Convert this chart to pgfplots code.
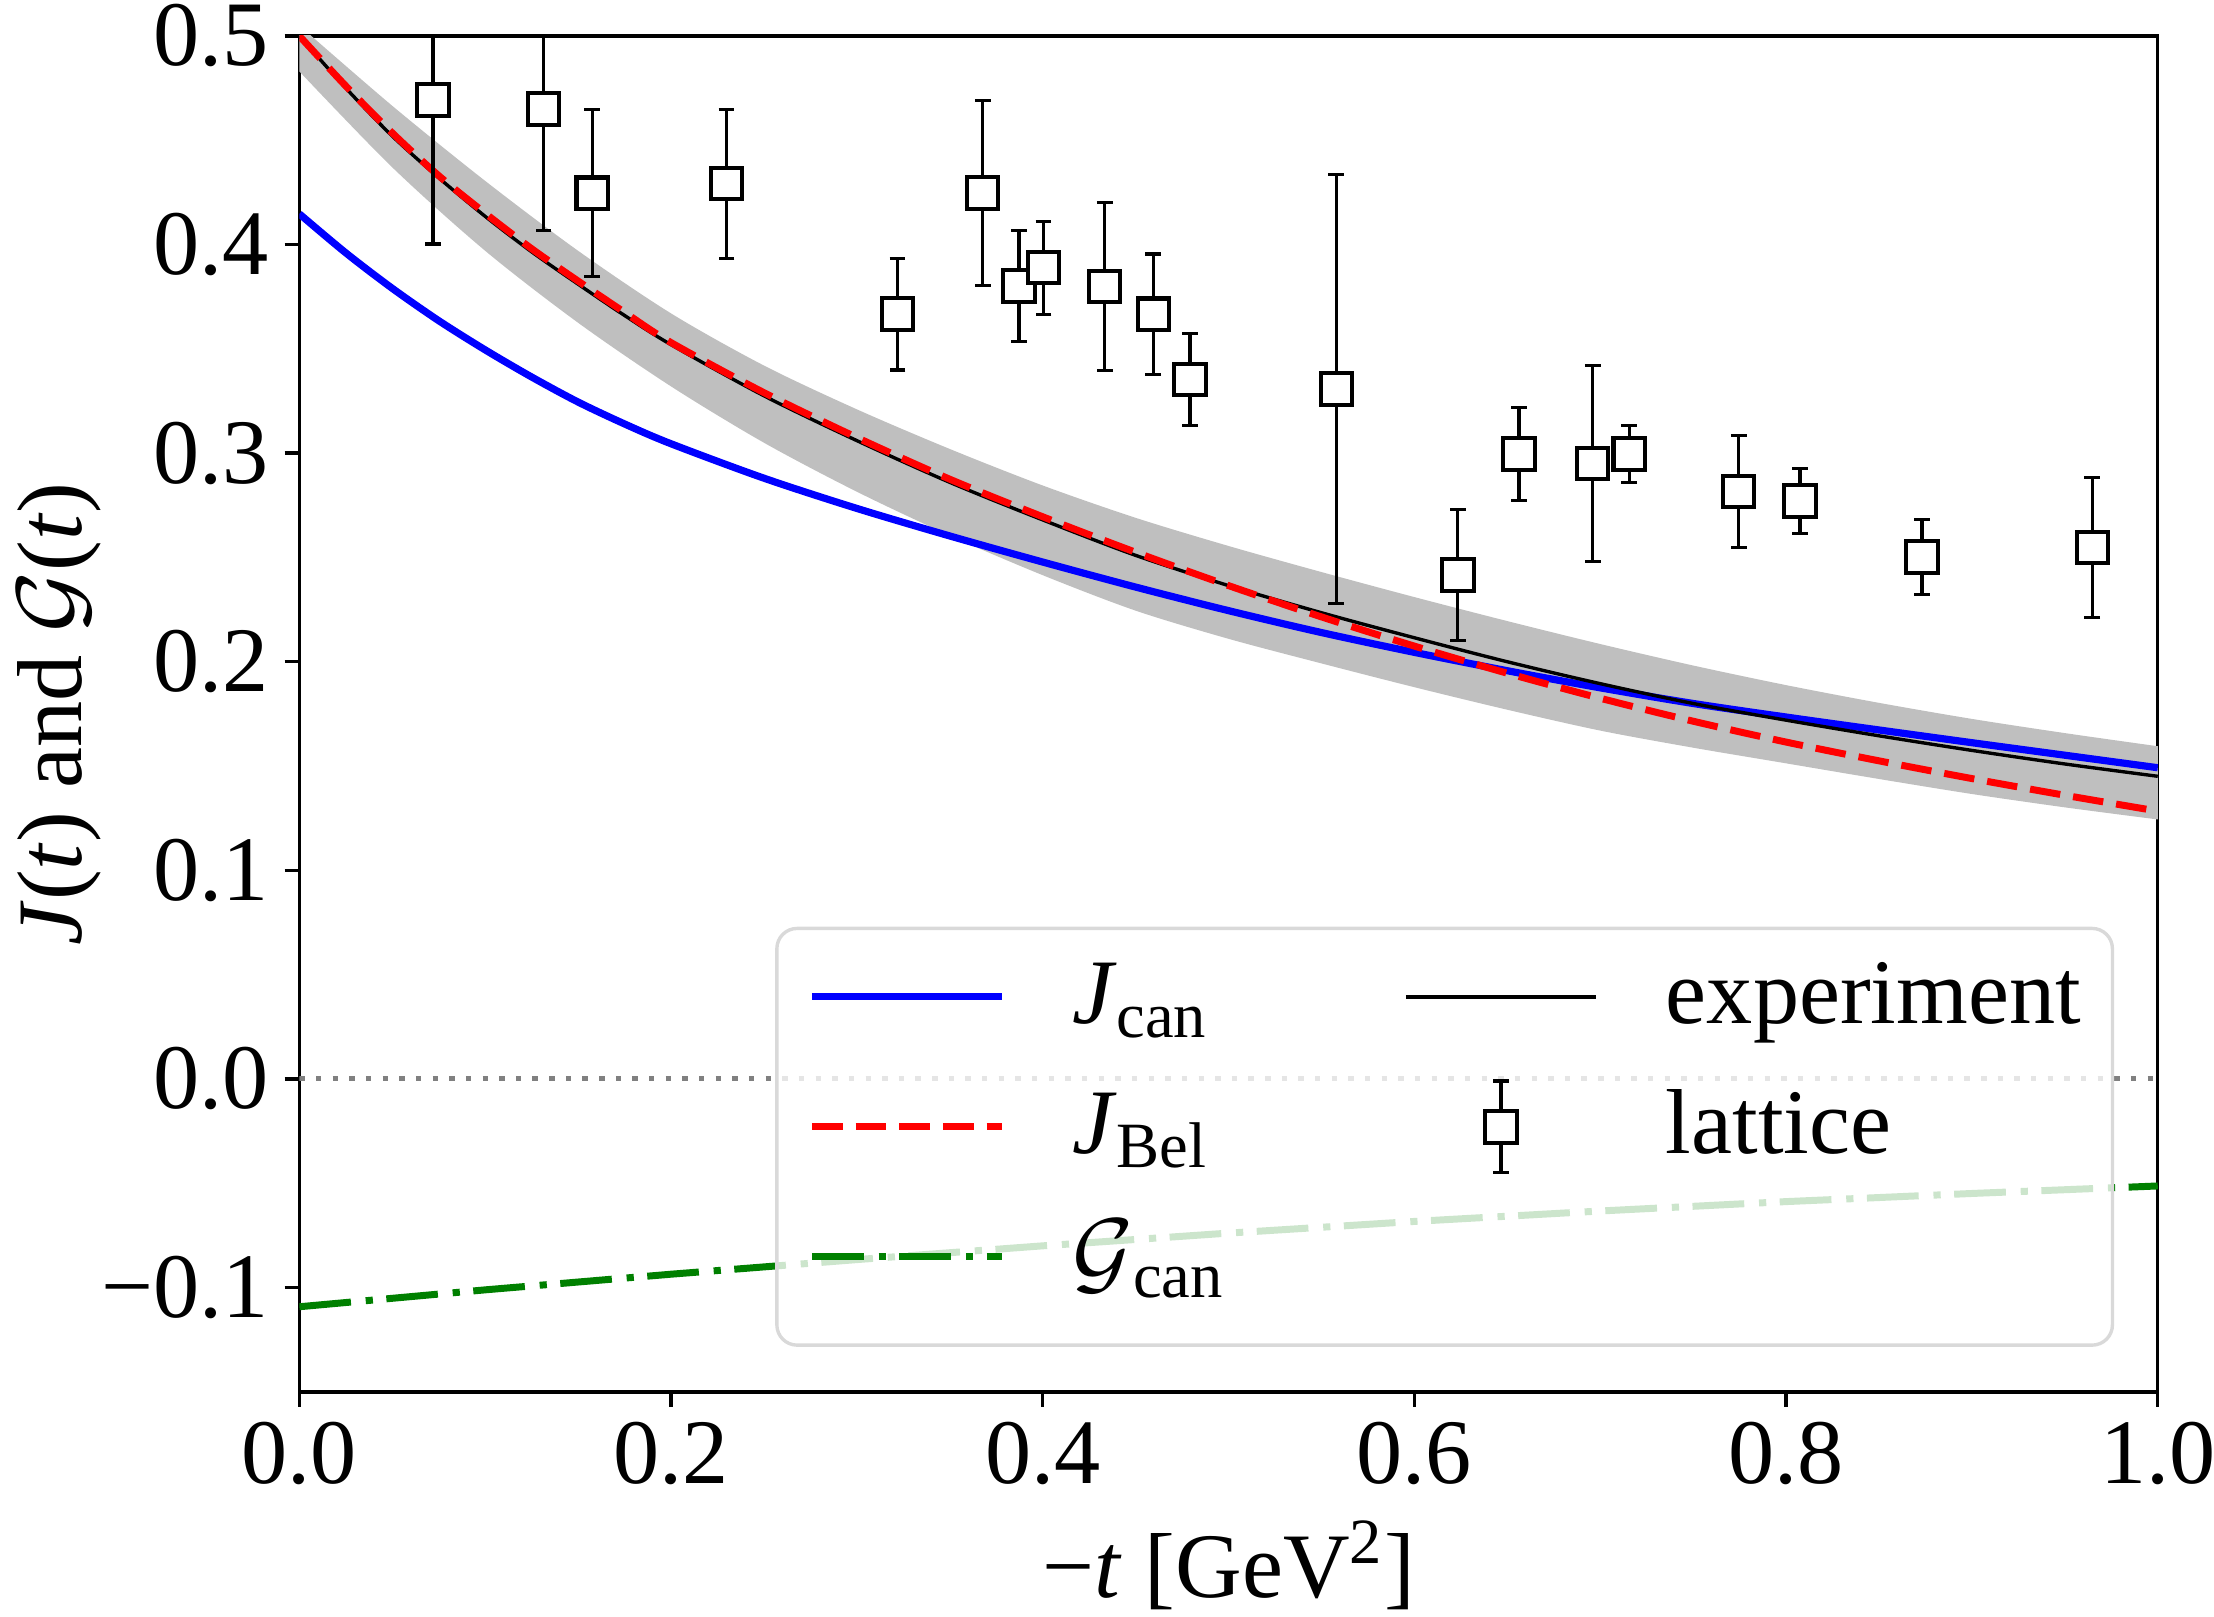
\documentclass[border=0pt]{standalone}
\usepackage{fontspec}
\setmainfont{Liberation Serif}
\usepackage{pgfplots}
\usepackage{pgfplotstable}
\pgfplotsset{compat=1.18}
\usepgfplotslibrary{fillbetween}

\definecolor{bandgray}{RGB}{191,191,191}
\definecolor{mplgreen}{RGB}{0,128,0}

% legend handles
\pgfplotsset{
  linelegend/.style={legend image code/.code={%
    \draw[##1] (0pt,0pt) -- (42.3pt,0pt);
    \path[draw=none, fill=none] (0pt,0pt) -- (57.8pt,0pt);}},
  lastlinelegend/.style={legend image code/.code={%
    \draw[##1] (0pt,0pt) -- (42.3pt,0pt);
    \path[draw=none, fill=none] (0pt,-10.4pt) -- (57.8pt,0pt);}},
  errlegend/.style={legend image code/.code={%
    \draw[black, line width=0.7pt, overlay, sharp corners, solid]
      (21.15pt,-10.2pt) -- (21.15pt,10.2pt)
      (19.4pt,-10.2pt) -- (22.9pt,-10.2pt) (19.4pt,10.2pt) -- (22.9pt,10.2pt);
    \draw[black, line width=0.9pt, fill=white, fill opacity=1, sharp corners, solid]
      (17.65pt,-3.5pt) rectangle (24.65pt,3.5pt);
    \path[draw=none, fill=none] (0pt,0pt) -- (57.8pt,0pt);}},
}

% uncertainty band of the experimental extraction
\pgfplotstableread{
t     up      lo
0.000 0.5050  0.4830
0.050 0.4665  0.4370
0.100 0.4305  0.3970
0.150 0.3970  0.3625
0.200 0.3670  0.3320
0.250 0.3420  0.3050
0.300 0.3210  0.2815
0.350 0.3020  0.2605
0.400 0.2845  0.2415
0.450 0.2690  0.2245
0.500 0.2555  0.2110
0.550 0.2430  0.1992
0.600 0.2310  0.1878
0.650 0.2195  0.1770
0.700 0.2085  0.1670
0.750 0.1982  0.1588
0.800 0.1888  0.1513
0.850 0.1803  0.1438
0.900 0.1726  0.1366
0.950 0.1658  0.1302
1.000 0.1595  0.1244
}\bandtab

% J_can
\pgfplotstableread{
t     v
0.000 0.4147
0.025 0.3960
0.050 0.3790
0.075 0.3635
0.100 0.3495
0.125 0.3365
0.150 0.3245
0.175 0.3140
0.200 0.3045
0.250 0.2880
0.300 0.2735
0.350 0.2603
0.400 0.2478
0.450 0.2358
0.500 0.2245
0.550 0.2140
0.600 0.2045
0.650 0.1957
0.700 0.1875
0.750 0.1800
0.800 0.1735
0.850 0.1673
0.900 0.1612
0.950 0.1552
1.000 0.1492
}\jcan

% J_Bel
\pgfplotstableread{
t     v
0.000 0.5000
0.025 0.4760
0.050 0.4535
0.075 0.4330
0.100 0.4150
0.125 0.3980
0.150 0.3825
0.175 0.3675
0.200 0.3530
0.250 0.3290
0.300 0.3075
0.350 0.2875
0.400 0.2695
0.450 0.2525
0.500 0.2365
0.550 0.2215
0.600 0.2075
0.650 0.1945
0.700 0.1825
0.750 0.1715
0.800 0.1615
0.850 0.1525
0.900 0.1440
0.950 0.1360
1.000 0.1284
}\jbel

% experiment
\pgfplotstableread{
t     v
0.000 0.5000
0.025 0.4750
0.050 0.4520
0.075 0.4320
0.100 0.4135
0.125 0.3965
0.150 0.3810
0.175 0.3660
0.200 0.3520
0.250 0.3275
0.300 0.3060
0.350 0.2860
0.400 0.2680
0.450 0.2510
0.500 0.2365
0.550 0.2235
0.600 0.2115
0.650 0.2000
0.700 0.1895
0.750 0.1800
0.800 0.1720
0.850 0.1645
0.900 0.1575
0.950 0.1510
1.000 0.1451
}\jexp

% G_can
\pgfplotstableread{
t   v
0.0 -0.1092
0.1 -0.1011
0.2 -0.0936
0.3 -0.0866
0.4 -0.0800
0.5 -0.0739
0.6 -0.0683
0.7 -0.0633
0.8 -0.0588
0.9 -0.0549
1.0 -0.0513
}\gcan

% lattice points with symmetric errors
\pgfplotstableread{
t      v      e
0.0719 0.4693 0.0690
0.1313 0.4649 0.0582
0.1576 0.4246 0.0401
0.2298 0.4292 0.0357
0.3218 0.3667 0.0268
0.3677 0.4247 0.0445
0.3872 0.3801 0.0267
0.4004 0.3889 0.0223
0.4333 0.3800 0.0403
0.4595 0.3666 0.0289
0.4792 0.3353 0.0222
0.5580 0.3307 0.1027
0.6234 0.2415 0.0313
0.6563 0.2996 0.0223
0.6959 0.2951 0.0470
0.7156 0.2996 0.0136
0.7745 0.2817 0.0269
0.8075 0.2771 0.0156
0.8731 0.2503 0.0179
0.9648 0.2548 0.0335
}\lattice

\newcommand{\colone}[1]{\makebox[73.8pt][l]{#1}}

\begin{document}
\begin{tikzpicture}
\begin{axis}[
  scale only axis,
  width=412.96pt, height=301.3pt,
  xmin=0, xmax=1, ymin=-0.15, ymax=0.5,
  font=\fontsize{20.5}{24.6}\selectfont,
  tick pos=left, tick align=outside,
  major tick length=3.3pt,
  every tick/.style={black, line width=0.75pt},
  axis line style={line width=0.75pt},
  xtick={0,0.2,0.4,0.6,0.8,1},
  xticklabels={0.0,0.2,0.4,0.6,0.8,1.0},
  ytick={-0.1,0,0.1,0.2,0.3,0.4,0.5},
  yticklabels={−0.1,0.0,0.1,0.2,0.3,0.4,0.5},
  xlabel={−\textit{t} [GeV\textsuperscript{2}]},
  ylabel={\textit{J}(\textit{t}) and $\mathcal{G}$(\textit{t})},
  xlabel style={at={(axis description cs:0.5,-0.1513)}, anchor=base, inner sep=0pt},
  ylabel style={at={(axis description cs:-0.1175,0.5)}, anchor=base, inner sep=0pt},
  legend columns=2,
  legend cell align=left,
  legend style={
    at={(0.97651,0.0332)}, anchor=south east,
    draw=black!15, line width=0.75pt, rounded corners=4.5pt,
    fill=white, fill opacity=0.8, draw opacity=1, text opacity=1,
    inner xsep=7pt, inner ysep=9.2pt,
    row sep=16.9pt, column sep=0pt,
    nodes={inner sep=0pt, text height=12pt, text depth=0pt},
    font=\fontsize{20.5}{24.6}\selectfont,
  },
]

% experimental band
\addplot[name path=bu, draw=none, smooth, forget plot] table[x=t, y=up] {\bandtab};
\addplot[name path=bl, draw=none, smooth, forget plot] table[x=t, y=lo] {\bandtab};
\addplot[fill=bandgray, draw=none, forget plot] fill between[of=bu and bl];

% zero line
\addplot[forget plot, color=gray, line width=1.1pt, dash pattern=on 1.2pt off 2.5pt]
  coordinates {(0,0) (1,0)};

\addplot[blue, line width=1.6pt, smooth, linelegend] table[x=t, y=v] {\jcan};
\addlegendentry{\colone{\textit{J}\textsubscript{can}}}

\addplot[black, line width=0.75pt, smooth, linelegend] table[x=t, y=v] {\jexp};
\addlegendentry{experiment}

\addplot[red, line width=1.55pt, smooth, dash pattern=on 6.8pt off 2.9pt, linelegend]
  table[x=t, y=v] {\jbel};
\addlegendentry{\colone{\textit{J}\textsubscript{Bel}}}

\addplot[only marks, mark=square*, mark size=3.5pt,
  mark options={draw=black, fill=white, line width=0.9pt, solid},
  errlegend,
  error bars/.cd, y dir=both, y explicit,
  error bar style={line width=0.7pt, black, solid},
  error mark options={rotate=90, black, mark size=1.75pt, line width=0.7pt}]
  table[x=t, y=v, y error=e] {\lattice};
\addlegendentry{lattice}

\addplot[mplgreen, line width=1.55pt, dash pattern=on 11.5pt off 3.3pt on 1.6pt off 3.0pt,
  lastlinelegend] table[x=t, y=v] {\gcan};
\addlegendentry{\colone{$\mathcal{G}$\textsubscript{can}}}

\coordinate (ll) at (rel axis cs:0,0);
\coordinate (ur) at (rel axis cs:1,1);
\end{axis}
\pgfresetboundingbox
\path ([shift={(-66.53pt,-50pt)}]ll) rectangle ([shift={(12.5pt,8pt)}]ur);
\end{tikzpicture}
\end{document}
